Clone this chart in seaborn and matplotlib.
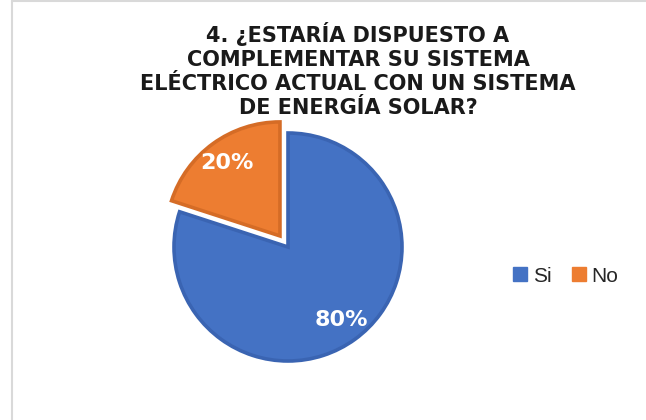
import matplotlib
matplotlib.use("Agg")
import matplotlib.pyplot as plt
import seaborn as sns
from matplotlib.lines import Line2D

sns.set_theme(style="white")
plt.rcParams['font.family'] = ['DejaVu Sans']

# Data
categories = ["Si", "No"]
values = [80, 20]
colors = ["#4472C4", "#ED7D31"]
edge_colors = ["#3A64B2", "#D56C26"]
title = "4. ¿ESTARÍA DISPUESTO A\nCOMPLEMENTAR SU SISTEMA\nELÉCTRICO ACTUAL CON UN SISTEMA\nDE ENERGÍA SOLAR?"

W, H = 646, 420
fig = plt.figure(figsize=(W / 100, H / 100), dpi=100)
fig.patch.set_facecolor("white")

# pie axes: center (288,247) px, radius 114 px
cx, cy, R = 288, 247, 114
half = 160
ax = fig.add_axes([(cx - half) / W, (H - cy - half) / H, 2 * half / W, 2 * half / H])
lim = half / R

wedges, texts, autotexts = ax.pie(
    values, colors=colors, startangle=90, counterclock=False,
    explode=[0, 0.12], autopct="%1.0f%%", pctdistance=0.79,
    radius=1, frame=True,
    wedgeprops=dict(linewidth=2.6),
    textprops=dict(color="white", fontsize=16, fontweight="bold"))
ax.set_xlim(-lim, lim)
ax.set_ylim(-lim, lim)
ax.set_aspect("equal")
ax.axis("off")
for w, ec in zip(wedges, edge_colors):
    w.set_edgecolor(ec)

# title
fig.text(358 / W, 1 - 22 / H, title, ha="center", va="top", fontsize=15,
         fontweight="bold", color="#1a1a1a", linespacing=1.25)

# legend
handles = [Line2D([0], [0], marker="s", linestyle="none", markersize=10,
                  markerfacecolor=c, markeredgecolor=c) for c in colors]
leg = fig.legend(handles, categories, loc="center", bbox_to_anchor=(566 / W, 1 - 276 / H),
                 ncol=2, frameon=False, handlelength=0.6, handletextpad=0.3,
                 columnspacing=1.0, prop={"family": "Liberation Sans", "size": 15})

# chart border (light gray), left and top visible
fig.add_artist(Line2D([11.5 / W, 11.5 / W], [0, 1 - 1 / H], transform=fig.transFigure,
                      color="#D9D9D9", linewidth=1.5))
fig.add_artist(Line2D([11.5 / W, 1], [1 - 1 / H, 1 - 1 / H], transform=fig.transFigure,
                      color="#D9D9D9", linewidth=1.5))

fig.savefig("out.png", dpi=100, facecolor="white")
